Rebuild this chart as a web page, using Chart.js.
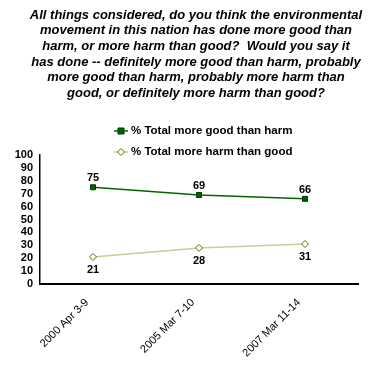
<!DOCTYPE html>
<html>
<head>
<meta charset="utf-8">
<script src="https://cdn.jsdelivr.net/npm/chart.js@4.4.0/dist/chart.umd.min.js"></script>
<style>
html,body{margin:0;padding:0;background:#fff;}
canvas{display:block;}
</style>
</head>
<body>
<canvas id="c" width="372" height="373"></canvas>
<script>
const titleLines = [
  "All things considered, do you think the environmental",
  "movement in this nation has done more good than",
  "harm, or more harm than good?  Would you say it",
  "has done -- definitely more good than harm, probably",
  "more good than harm, probably more harm than",
  "good, or definitely more harm than good?"
];
const categories = ["2000 Apr 3-9", "2005 Mar 7-10", "2007 Mar 11-14"];
const goodValues = [75, 69, 66];
const harmValues = [21, 28, 31];
const seriesLabels = ["% Total more good than harm", "% Total more harm than good"];
const yTicks = [0, 10, 20, 30, 40, 50, 60, 70, 80, 90, 100];

const FONT = "Arial, 'Liberation Sans', sans-serif";

const headerPlugin = {
  id: 'header',
  afterDraw(chart) {
    const ctx = chart.ctx;
    ctx.save();
    ctx.fillStyle = '#000';
    ctx.font = 'italic bold 13px ' + FONT;
    ctx.textAlign = 'center';
    ctx.textBaseline = 'middle';
    titleLines.forEach((t, i) => ctx.fillText(t, 196, 15 + i * 15.7));
    // legend
    const ys = [131, 152];
    chart.data.datasets.forEach((ds, i) => {
      const y = ys[i];
      ctx.strokeStyle = ds.borderColor;
      ctx.lineWidth = 1.5;
      ctx.beginPath(); ctx.moveTo(114, y); ctx.lineTo(128, y); ctx.stroke();
      ctx.fillStyle = ds.pointBackgroundColor;
      ctx.strokeStyle = ds.pointBorderColor;
      ctx.lineWidth = 1;
      ctx.beginPath();
      if (ds.pointStyle === 'rect') {
        ctx.rect(118, y - 3, 6, 6);
      } else {
        ctx.moveTo(121, y - 3.5); ctx.lineTo(124.5, y); ctx.lineTo(121, y + 3.5); ctx.lineTo(117.5, y); ctx.closePath();
      }
      ctx.fill(); ctx.stroke();
      ctx.fillStyle = '#000';
      ctx.font = 'bold 11.5px ' + FONT;
      ctx.textAlign = 'left';
      ctx.fillText(ds.label, 131, y);
    });
    ctx.restore();
  },
  afterDatasetsDraw(chart) {
    const ctx = chart.ctx;
    ctx.save();
    ctx.fillStyle = '#000';
    ctx.font = 'bold 11px ' + FONT;
    ctx.textAlign = 'center';
    ctx.textBaseline = 'middle';
    chart.data.datasets.forEach((ds, i) => {
      const meta = chart.getDatasetMeta(i);
      meta.data.forEach((pt, j) => {
        const off = i === 0 ? -9 : 13;
        ctx.fillText(String(ds.data[j]), pt.x, pt.y + off);
      });
    });
    ctx.restore();
  }
};

new Chart(document.getElementById('c'), {
  type: 'line',
  data: {
    labels: categories,
    datasets: [
      {
        label: seriesLabels[0],
        data: goodValues,
        borderColor: '#006600',
        borderWidth: 1.5,
        pointStyle: 'rect',
        pointRadius: 3.5,
        pointBackgroundColor: '#006600',
        pointBorderColor: '#003300',
        pointBorderWidth: 1,
        tension: 0
      },
      {
        label: seriesLabels[1],
        data: harmValues,
        borderColor: '#cccc99',
        borderWidth: 1.5,
        pointStyle: 'rectRot',
        pointRadius: 3.5,
        pointBackgroundColor: '#ffffcc',
        pointBorderColor: '#666633',
        pointBorderWidth: 1,
        tension: 0
      }
    ]
  },
  options: {
    responsive: false,
    animation: false,
    devicePixelRatio: 1,
    layout: { padding: { top: 155, right: 14, bottom: 0, left: 0 } },
    plugins: {
      legend: { display: false },
      title: { display: false },
      tooltip: { enabled: false }
    },
    scales: {
      x: {
        type: 'category',
        offset: true,
        grid: { display: false, drawTicks: false },
        border: { display: true, color: '#000', width: 2 },
        ticks: {
          color: '#000',
          font: { family: FONT, size: 11 },
          minRotation: 45,
          maxRotation: 45,
          autoSkip: false,
          labelOffset: -6,
          padding: 12
        },
        afterFit(scale) { scale.height = 89; }
      },
      y: {
        min: 0,
        max: 100,
        afterBuildTicks(scale) { scale.ticks = yTicks.map(v => ({ value: v })); },
        grid: { display: false, drawTicks: false },
        border: { display: true, color: '#000', width: 1.5 },
        ticks: {
          color: '#000',
          font: { family: FONT, size: 11, weight: 'bold' },
          padding: 7,
          autoSkip: false
        },
        afterFit(scale) { scale.width = 40; }
      }
    }
  },
  plugins: [headerPlugin]
});
</script>
</body>
</html>
